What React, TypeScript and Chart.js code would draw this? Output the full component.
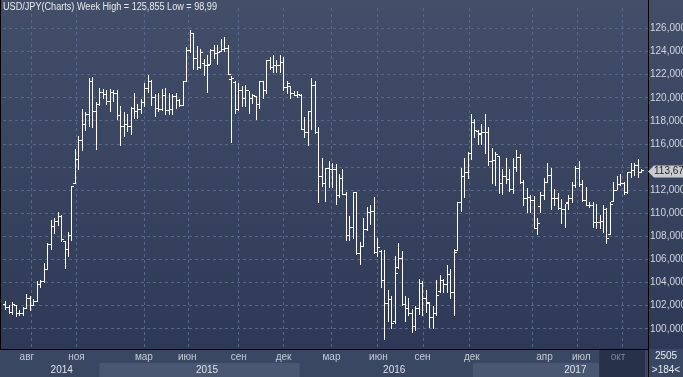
import React, { useEffect, useRef } from 'react';
import { Chart, registerables } from 'chart.js';

Chart.register(...registerables);

const W = 683;
const H = 377;

const TITLE = 'USD/JPY(Charts) Week High = 125,855 Low = 98,99';

// Weekly OHLC, one entry per bar (184 bars)
const opens = [
  102.1, 101.85, 101.45, 102.05, 101.3, 101.35, 101.8, 102.6, 102.0, 102.4,
  103.8, 104.1, 105.1, 107.3, 108.9, 109.3, 109.7, 107.6, 106.9, 108.1,
  112.6, 114.7, 116.3, 117.7, 118.6, 121.4, 118.8, 119.4, 120.5, 120.3,
  119.7, 120.5, 120.4, 118.5, 117.5, 117.7, 117.5, 119.1, 118.8, 119.0,
  119.6, 120.8, 121.4, 120.0, 119.1, 119.0, 120.2, 118.9, 119.0, 120.15,
  119.75, 119.3, 121.4, 124.1, 125.6, 123.4, 122.6, 123.0, 122.8, 122.9,
  124.1, 123.8, 124.0, 124.2, 124.3, 121.6, 121.3, 119.0, 120.6, 119.9,
  120.6, 119.9, 120.1, 119.4, 121.4, 120.6, 123.2, 122.6, 122.8, 122.8,
  123.1, 120.9, 121.0, 120.4, 120.2, 120.2, 117.3, 117.0, 118.8, 121.1,
  117.0, 113.2, 112.6, 113.9, 113.8, 113.8, 111.5, 113.0, 111.6, 108.1,
  108.8, 111.8, 106.5, 107.1, 108.6, 110.1, 110.2, 106.6, 106.7, 104.2,
  102.2, 102.5, 100.6, 105.3, 106.1, 102.1, 101.8, 101.3, 100.2, 101.8,
  103.9, 102.6, 102.2, 101.0, 101.3, 103.2, 104.2, 103.8, 104.7, 103.1,
  106.8, 110.9, 113.2, 113.5, 115.2, 117.9, 117.1, 116.8, 117.0, 117.0,
  114.5, 114.6, 114.9, 112.6, 113.2, 112.9, 112.1, 114.0, 114.8, 112.7,
  111.3, 111.4, 111.1, 108.7, 110.6, 111.5, 112.7, 113.3, 111.3, 111.3,
  110.4, 110.3, 110.9, 111.3, 112.4, 113.9, 112.5, 111.1, 110.7, 110.7,
  109.2, 109.2, 109.3, 110.3, 108.2, 111.0, 112.0, 112.5, 112.6, 111.8,
  113.5, 113.7, 114.1, 113.5,
];
const highs = [
  102.45, 102.1, 102.3, 102.1, 101.6, 101.9, 103.05, 102.85, 102.6, 104.15,
  104.25, 105.7, 107.4, 109.45, 109.6, 110.1, 109.85, 107.6, 108.35, 112.4,
  115.6, 116.7, 119.0, 118.8, 121.7, 121.8, 119.6, 120.85, 120.75, 120.7,
  120.75, 120.65, 120.65, 119.3, 118.75, 118.6, 119.2, 120.45, 119.45, 119.9,
  121.3, 122.0, 121.55, 120.3, 120.4, 120.75, 120.85, 120.45, 120.3, 120.45,
  119.9, 121.45, 124.4, 125.85, 125.65, 124.5, 124.25, 123.4, 123.7, 124.25,
  124.55, 124.55, 125.1, 125.25, 124.55, 121.85, 121.45, 121.3, 121.0, 121.15,
  120.6, 120.3, 120.15, 121.45, 121.45, 123.25, 123.55, 123.7, 123.25, 123.7,
  123.55, 121.45, 121.0, 120.6, 120.6, 120.3, 118.35, 118.9, 121.7, 121.45,
  117.5, 114.8, 113.95, 114.5, 114.4, 114.25, 113.4, 113.8, 111.85, 109.75,
  111.85, 111.85, 107.5, 109.6, 110.55, 110.7, 111.4, 107.9, 106.8, 106.8,
  103.4, 102.8, 106.3, 107.45, 106.75, 102.8, 102.65, 101.7, 101.95, 104.35,
  104.1, 103.4, 102.3, 101.95, 104.2, 104.65, 104.35, 105.5, 105.2, 106.9,
  111.0, 113.95, 114.8, 115.35, 118.6, 118.2, 117.2, 117.75, 118.6, 117.5,
  115.65, 115.35, 114.95, 113.8, 114.8, 113.8, 114.8, 115.5, 115.1, 112.85,
  112.15, 111.55, 111.5, 109.6, 111.85, 113.1, 114.35, 113.9, 112.1, 111.8,
  111.25, 110.85, 111.55, 112.7, 114.1, 114.5, 112.85, 112.25, 111.0, 111.0,
  110.85, 109.85, 110.7, 110.45, 110.95, 112.7, 113.25, 113.4, 112.7, 113.55,
  114.4, 114.4, 114.7, 113.85,
];
const lows = [
  101.6, 101.3, 101.2, 101.0, 101.1, 101.1, 101.75, 101.55, 101.95, 102.3,
  103.5, 104.0, 105.05, 106.8, 108.2, 108.9, 107.5, 105.2, 106.2, 107.6,
  112.5, 113.75, 115.4, 117.1, 117.5, 117.35, 115.5, 119.3, 119.9, 119.4,
  118.75, 119.65, 118.05, 115.8, 116.65, 117.05, 116.8, 118.2, 118.2, 118.6,
  119.2, 120.45, 119.3, 118.35, 118.75, 118.9, 118.5, 118.5, 118.5, 119.05,
  119.2, 119.3, 121.4, 123.85, 122.45, 122.45, 122.5, 121.85, 120.45, 122.85,
  123.4, 122.85, 123.95, 123.95, 122.0, 116.1, 118.6, 118.9, 119.2, 119.2,
  118.6, 119.45, 118.05, 119.05, 119.9, 120.3, 122.4, 122.15, 122.15, 122.15,
  120.6, 120.3, 119.9, 120.15, 120.0, 117.2, 116.5, 115.85, 117.2, 116.9,
  110.9, 112.3, 111.0, 112.15, 112.15, 110.7, 111.3, 111.55, 107.6, 107.6,
  107.75, 106.35, 105.5, 107.05, 108.45, 109.0, 106.5, 106.2, 103.55, 99.0,
  100.55, 100.0, 100.45, 105.2, 101.95, 100.55, 101.15, 99.6, 99.85, 101.2,
  101.15, 101.4, 100.1, 100.0, 101.15, 103.1, 103.1, 103.1, 102.55, 101.15,
  106.75, 110.15, 111.3, 112.95, 114.65, 116.5, 115.95, 115.95, 115.1, 114.1,
  112.55, 112.4, 111.7, 111.55, 112.55, 111.85, 111.7, 113.6, 112.55, 110.6,
  110.0, 110.0, 108.6, 108.15, 110.0, 111.15, 112.6, 110.25, 110.6, 110.3,
  109.05, 108.75, 110.3, 110.9, 112.15, 112.3, 111.0, 110.6, 110.45, 108.75,
  108.6, 108.6, 108.3, 107.35, 108.15, 111.0, 111.99, 112.4, 111.55, 111.7,
  113.1, 113.25, 113.1, 113.5,
];
const closes = [
  101.85, 101.45, 102.1, 101.3, 101.35, 101.8, 102.6, 102.0, 102.35, 103.8,
  104.1, 105.1, 107.3, 108.9, 109.3, 109.7, 107.7, 106.9, 108.1, 112.3,
  114.7, 116.3, 117.7, 118.6, 121.4, 118.8, 119.4, 120.5, 120.3, 119.7,
  120.5, 120.4, 118.5, 117.5, 117.7, 117.5, 119.1, 118.8, 119.0, 119.6,
  120.8, 121.4, 120.0, 119.1, 119.0, 120.2, 118.9, 119.0, 120.15, 119.75,
  119.3, 121.4, 124.1, 125.6, 123.4, 122.6, 123.9, 122.8, 122.8, 124.1,
  123.8, 123.9, 124.2, 124.3, 122.05, 121.7, 119.0, 120.6, 119.9, 120.6,
  119.9, 120.2, 119.4, 121.4, 120.6, 123.2, 122.6, 122.8, 122.8, 123.1,
  120.9, 121.2, 120.4, 120.2, 120.3, 117.3, 117.0, 118.8, 121.1, 117.0,
  113.2, 112.6, 113.9, 113.8, 113.8, 111.5, 113.0, 111.6, 108.1, 108.8,
  111.8, 106.5, 107.1, 108.6, 110.1, 110.2, 106.6, 107.0, 104.2, 102.2,
  102.5, 100.5, 104.8, 106.1, 102.1, 101.8, 101.3, 100.2, 101.8, 103.9,
  102.6, 102.3, 101.0, 101.3, 102.9, 104.2, 103.8, 104.7, 103.1, 106.6,
  110.9, 113.2, 113.5, 115.2, 117.9, 117.2, 116.9, 117.0, 117.0, 114.5,
  114.6, 115.1, 112.6, 113.2, 112.9, 112.1, 114.0, 114.8, 112.7, 111.3,
  111.4, 111.1, 108.7, 109.1, 111.5, 112.7, 113.3, 111.3, 111.3, 110.4,
  110.3, 110.85, 111.3, 112.4, 113.9, 112.5, 111.1, 110.7, 110.7, 109.2,
  109.2, 109.3, 110.3, 107.8, 110.8, 112.0, 112.5, 112.6, 111.8, 113.5,
  113.7, 114.1, 113.5, 113.67,
];

const yTicks = [100, 102, 104, 106, 108, 110, 112, 114, 116, 118, 120, 122, 124, 126];
const monthLabels = ['авг', 'ноя', 'мар', 'июн', 'сен', 'дек', 'мар', 'июн', 'сен', 'дек', 'апр', 'июл', 'окт'];
const monthLabelPos = [6.0, 20.3, 39.7, 52.2, 67.0, 79.9, 93.7, 107.2, 119.9, 134.1, 155.0, 165.6, 176.2];
const monthGridPos = [7.25, 20.43, 39.74, 52.44, 66.96, 79.86, 93.7, 107.08, 120.26, 133.32, 151.49, 164.61, 177.45];
const yearLabels = ['2014', '2015', '2016', '2017'];
const yearLabelPos = [16.05, 57.88, 111.75, 163.9];
const lightBands = [[26.93, 84.53], [134.38, 170.77]];
const darkBox = [170.77, 183.95];
const cornerTop = '2505';
const cornerBottom = '>184<';

const X_MIN = -0.86;
const X_MAX = 184.81;
const Y_MIN = 98.25;
const Y_MAX = 127.78;

const FONT = "'Liberation Sans', Arial, sans-serif";
const GRID = '#56678a';
const ROW_BG = '#3a4763';
const BAND_LIGHT = '#4a5773';
const DARK_BOX = '#27324a';

function makeTick(left: boolean): HTMLCanvasElement {
  const c = document.createElement('canvas');
  c.width = 5;
  c.height = 1;
  const g = c.getContext('2d')!;
  g.fillStyle = '#ffffff';
  g.fillRect(left ? 0 : 3, 0, 2, 1);
  return c;
}

export default function App() {
  const ref = useRef<HTMLCanvasElement>(null);

  useEffect(() => {
    document.body.style.margin = '0';
    const canvas = ref.current!;
    const leftTick = makeTick(true);
    const rightTick = makeTick(false);
    const idx = opens.map((_, i) => i);
    const lastClose = closes[closes.length - 1];

    const bgPlugin = {
      id: 'bg',
      beforeDraw(chart: any) {
        const { ctx, chartArea: ca } = chart;
        const xs = chart.scales.x;
        ctx.save();
        const g = ctx.createLinearGradient(0, 0, 0, ca.bottom);
        g.addColorStop(0, '#434f69');
        g.addColorStop(1, '#2d3956');
        ctx.fillStyle = g;
        ctx.fillRect(0, 0, W, ca.bottom);
        ctx.fillStyle = ROW_BG;
        ctx.fillRect(0, ca.bottom, W, H - ca.bottom);
        ctx.fillStyle = BAND_LIGHT;
        lightBands.forEach(([a, b]) => {
          const pa = xs.getPixelForValue(a);
          const pb = xs.getPixelForValue(b);
          ctx.fillRect(pa, 363, pb - pa, H - 363);
        });
        const d0 = xs.getPixelForValue(darkBox[0]);
        const d1 = xs.getPixelForValue(darkBox[1]);
        ctx.fillStyle = DARK_BOX;
        ctx.fillRect(d0, ca.bottom + 1, d1 - d0, H - ca.bottom - 1);
        ctx.restore();
      },
    };

    const snapPlugin = {
      id: 'snap',
      afterDatasetsUpdate(chart: any) {
        chart.data.datasets.forEach((_: any, di: number) => {
          const meta = chart.getDatasetMeta(di);
          meta.data.forEach((el: any) => {
            el.x = Math.floor(el.x) + 0.5;
            if (di === 0) {
              el.y = Math.round(el.y);
              el.base = Math.round(el.base);
            } else {
              el.y = Math.floor(el.y) + 0.5;
            }
          });
        });
      },
    };

    const overlayPlugin = {
      id: 'overlay',
      afterDraw(chart: any) {
        const { ctx, chartArea: ca } = chart;
        const ys = chart.scales.y;
        ctx.save();
        // borders
        ctx.fillStyle = '#000000';
        ctx.fillRect(ca.right, 0, 1, H);
        ctx.fillRect(0, ca.bottom, ca.right, 1);
        ctx.fillRect(0, 0, 1, ca.bottom);
        // title
        ctx.font = `10px ${FONT}`;
        ctx.textBaseline = 'middle';
        ctx.textAlign = 'left';
        const tw = ctx.measureText(TITLE).width;
        ctx.save();
        ctx.translate(3, 7);
        ctx.scale(214 / tw, 1);
        ctx.fillStyle = '#e6eaf0';
        ctx.fillText(TITLE, 0, 0);
        ctx.restore();
        // last price label
        const py = Math.round(ys.getPixelForValue(lastClose)) + 0.5;
        const lx = ca.right;
        ctx.beginPath();
        ctx.moveTo(lx, py);
        ctx.lineTo(lx + 6, py - 6);
        ctx.lineTo(W, py - 6);
        ctx.lineTo(W, py + 6);
        ctx.lineTo(lx + 6, py + 6);
        ctx.closePath();
        ctx.fillStyle = '#c9cbce';
        ctx.fill();
        ctx.fillStyle = '#1c1f26';
        ctx.fillText(lastClose.toFixed(2).replace('.', ','), lx + 6, py);
        // corner box
        ctx.fillStyle = '#e8ecf2';
        ctx.textAlign = 'center';
        ctx.fillText(cornerTop, 666, 356);
        ctx.fillText(cornerBottom, 666, 370);
        ctx.restore();
      },
    };

    const xCommon = {
      type: 'linear' as const,
      min: X_MIN,
      max: X_MAX,
      offset: false,
    };

    const chart = new Chart(canvas, {
      type: 'bar',
      data: {
        datasets: [
          {
            type: 'bar',
            data: idx.map((i) => ({ x: i, y: [lows[i], highs[i]] })) as any,
            backgroundColor: '#ffffff',
            borderWidth: 0,
            barThickness: 1,
            inflateAmount: 0,
            grouped: false,
            xAxisID: 'x',
            yAxisID: 'y',
          } as any,
          {
            type: 'line',
            data: idx.map((i) => ({ x: i, y: opens[i] })),
            showLine: false,
            pointStyle: leftTick as any,
            pointRadius: 2,
            pointHoverRadius: 2,
            xAxisID: 'x',
            yAxisID: 'y',
          } as any,
          {
            type: 'line',
            data: idx.map((i) => ({ x: i, y: closes[i] })),
            showLine: false,
            pointStyle: rightTick as any,
            pointRadius: 2,
            pointHoverRadius: 2,
            xAxisID: 'x',
            yAxisID: 'y',
          } as any,
        ],
      },
      options: {
        responsive: false,
        animation: false,
        devicePixelRatio: 1,
        events: [],
        layout: { padding: 0 },
        plugins: {
          legend: { display: false },
          tooltip: { enabled: false },
          title: { display: false },
        },
        scales: {
          x: {
            ...xCommon,
            position: 'bottom',
            weight: 0,
            grid: { color: GRID, drawTicks: false, offset: false, lineWidth: 1 },
            border: { display: false, dash: [3, 3] },
            ticks: { display: false },
            afterBuildTicks: (s: any) => {
              s.ticks = monthGridPos.map((v) => ({ value: v }));
            },
            afterFit: (s: any) => {
              s.height = 0;
            },
          },
          xm: {
            ...xCommon,
            position: 'bottom',
            weight: 1,
            grid: { display: false, drawTicks: false, offset: false },
            border: { display: false },
            ticks: {
              autoSkip: false,
              maxRotation: 0,
              padding: 2,
              font: { family: FONT, size: 10 },
              color: (c: any) => (c.index === monthLabels.length - 1 ? '#7b879c' : '#c4cbd8'),
              callback: (_v: any, i: number) => monthLabels[i],
            },
            afterBuildTicks: (s: any) => {
              s.ticks = monthLabelPos.map((v) => ({ value: v }));
            },
            afterFit: (s: any) => {
              s.height = 14;
            },
          },
          xy: {
            ...xCommon,
            position: 'bottom',
            weight: 2,
            grid: { display: false, drawTicks: false, offset: false },
            border: { display: false },
            ticks: {
              autoSkip: false,
              maxRotation: 0,
              padding: 1,
              font: { family: FONT, size: 10 },
              color: '#dde2ea',
              callback: (_v: any, i: number) => yearLabels[i],
            },
            afterBuildTicks: (s: any) => {
              s.ticks = yearLabelPos.map((v) => ({ value: v }));
            },
            afterFit: (s: any) => {
              s.height = 14;
            },
          },
          y: {
            type: 'linear',
            position: 'right',
            min: Y_MIN,
            max: Y_MAX,
            grid: { color: GRID, drawTicks: false, lineWidth: 1 },
            border: { display: false, dash: [3, 3] },
            ticks: {
              autoSkip: false,
              padding: 2,
              font: { family: FONT, size: 10 },
              color: '#d0d5de',
              callback: (v: any) =>
                Math.abs(Number(v) - lastClose) < 1.2 ? '' : Number(v).toFixed(3).replace('.', ','),
            },
            afterBuildTicks: (s: any) => {
              s.ticks = yTicks.map((v) => ({ value: v }));
            },
            afterFit: (s: any) => {
              s.width = 35;
            },
          },
        },
      } as any,
      plugins: [bgPlugin, snapPlugin, overlayPlugin],
    });

    return () => {
      chart.destroy();
    };
  }, []);

  return (
    <canvas
      ref={ref}
      width={W}
      height={H}
      style={{ display: 'block', width: W, height: H }}
    />
  );
}
